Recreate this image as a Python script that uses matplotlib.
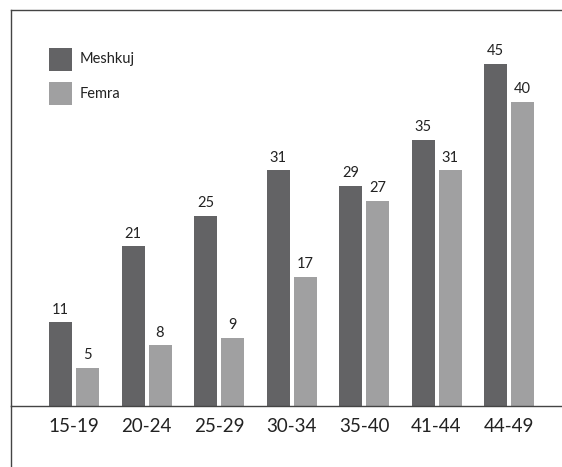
import numpy as np
import matplotlib
matplotlib.use('Agg')
import matplotlib.pyplot as plt
from matplotlib.lines import Line2D
from matplotlib.patches import Rectangle

# Data
groups = ['15-19', '20-24', '25-29', '30-34', '35-40', '41-44', '44-49']
meshkuj = [11, 21, 25, 31, 29, 35, 45]
femra = [5, 8, 9, 17, 27, 31, 40]

dark = '#636365'
light = '#a0a0a1'
text_color = '#222222'
line_color = '#444444'

plt.rcParams['font.family'] = ['Lato', 'DejaVu Sans']

W, H = 562, 467
fig = plt.figure(figsize=(W / 100, H / 100), dpi=100)

# axes from x=11 to right edge, y=10 (top) to 406 (baseline)
ax = fig.add_axes([11 / W, (H - 406) / H, (W - 11) / W, 396 / H])

px = 72.5  # pixels per group
x = np.arange(len(groups))
bw = 23 / px
off = 13.5 / px

b1 = ax.bar(x - off, meshkuj, width=bw, color=dark, label='Meshkuj')
b2 = ax.bar(x + off, femra, width=bw, color=light, label='Femra')

for bars, vals in ((b1, meshkuj), (b2, femra)):
    for rect, v in zip(bars, vals):
        ax.annotate(str(v), (rect.get_x() + rect.get_width() / 2, v),
                    xytext=(0, 4), textcoords='offset points',
                    ha='center', va='bottom', fontsize=10.5, color=text_color)

ax.set_xlim((11 - 74) / px, (W - 74) / px)
ax.set_ylim(0, 396 / 7.6)

ax.set_xticks(x)
ax.set_xticklabels(groups, fontsize=13.5, color=text_color)
ax.tick_params(axis='x', length=0, pad=9)
ax.set_yticks([])

for s in ('top', 'left', 'bottom'):
    ax.spines[s].set_color(line_color)
    ax.spines[s].set_linewidth(1.0)
ax.spines['right'].set_visible(False)

# left border continues below the baseline
fig.add_artist(Line2D([11 / W, 11 / W], [0, (H - 406) / H],
                      transform=fig.transFigure, color=line_color, lw=1.0))

# legend drawn as squares + text
for i, (lab, col) in enumerate((('Meshkuj', dark), ('Femra', light))):
    ytop = 48 + 34 * i
    fig.add_artist(Rectangle((49 / W, (H - ytop - 23) / H), 23 / W, 23 / H,
                             transform=fig.transFigure, color=col, lw=0))
    fig.text(80 / W, (H - ytop - 11.5) / H, lab, fontsize=10.5,
             color=text_color, va='center', ha='left')

fig.savefig('out.png', dpi=100)
